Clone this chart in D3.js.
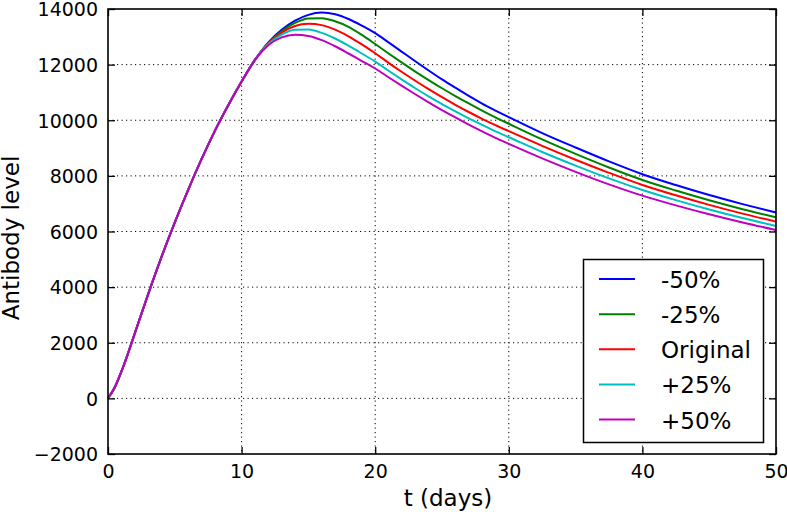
<!DOCTYPE html>
<html>
<head>
<meta charset="utf-8">
<script src="https://cdn.jsdelivr.net/npm/d3@7"></script>
<style>
  html, body { margin: 0; padding: 0; background: #fff; }
  svg { display: block; font-family: "DejaVu Sans", sans-serif; }
</style>
</head>
<body>
<svg id="chart" width="787" height="512"></svg>
<script>
// ---- data ----
const days = [0,0.5,1,1.5,2,3,4,5,6,7,8,9,10,11,
  12,13,14,15,16,17,18,19,20,21,22,23,24,25,26,27,28,29,30,32.5,35,37.5,40,42.5,45,47.5,50];
const rising = [0,390,960,1620,2330,3740,5080,6330,7500,8600,9620,10540,11390,12170];
const minus50 = rising.concat([12800,13250,13580,13790,13870,13810,13640,13400,13130,12800,12460,12120,11790,11470,11170,10880,10600,10350,10110,9540,9020,8520,8060,7670,7310,6985,6680]);
const minus25 = rising.concat([12780,13200,13500,13660,13670,13560,13360,13070,12740,12400,12070,11750,11445,11150,10870,10605,10350,10105,9875,9310,8790,8300,7853,7473,7123,6803,6512]);
const original = rising.concat([12760,13150,13390,13470,13420,13260,13020,12730,12410,12065,11735,11419,11117,10829,10556,10297,10052,9822,9606,9080,8580,8110,7673,7303,6958,6643,6354]);
const plus25 = rising.concat([12740,13080,13250,13260,13140,12940,12680,12400,12110,11780,11460,11150,10860,10580,10320,10070,9830,9600,9390,8860,8370,7910,7494,7129,6794,6484,6199]);
const plus50 = rising.concat([12700,12980,13075,13030,12880,12660,12400,12130,11860,11545,11235,10935,10645,10365,10100,9845,9600,9365,9150,8630,8145,7695,7289,6939,6619,6324,6055]);
const seriesNames = ["-50%","-25%","Original","+25%","+50%"];
const seriesValues = [minus50, minus25, original, plus25, plus50];
const seriesColors = ["#0000ff","#008000","#ff0000","#00bfbf","#bf00bf"];
const xTicks = [0,10,20,30,40,50];
const yTicks = [-2000,0,2000,4000,6000,8000,10000,12000,14000];
const xLabel = "t (days)";
const yLabel = "Antibody level";

// ---- layout ----
const L = 108, T = 9, W = 668, H = 445;
const svg = d3.select("#chart");
const x = d3.scaleLinear().domain([0,50]).range([L, L+W]);
const y = d3.scaleLinear().domain([-2000,14000]).range([T+H, T]);
const fmt = v => v < 0 ? "\u2212" + Math.abs(v) : String(v);

// grid
const grid = svg.append("g").attr("stroke","#000").attr("stroke-width",1)
  .attr("stroke-dasharray","1.2,3.3").attr("fill","none");
xTicks.slice(1,-1).forEach(t => grid.append("line")
  .attr("x1",x(t)).attr("x2",x(t)).attr("y1",T).attr("y2",T+H));
yTicks.slice(1,-1).forEach(v => grid.append("line")
  .attr("x1",L).attr("x2",L+W).attr("y1",y(v)).attr("y2",y(v)));

// lines
const line = d3.line().x((d,i) => x(days[i])).y(d => y(d)).curve(d3.curveMonotoneX);
seriesValues.forEach((vals,k) => {
  svg.append("path").datum(vals).attr("d", line)
    .attr("fill","none").attr("stroke", seriesColors[k]).attr("stroke-width",2)
    .attr("stroke-linejoin","round");
});

// axes (inward ticks, all sides)
const tk = 7;
const axB = svg.append("g").attr("transform",`translate(0,${T+H})`)
  .call(d3.axisBottom(x).tickValues(xTicks).tickSizeInner(-tk).tickSizeOuter(0).tickPadding(11).tickFormat(d=>d));
const axT = svg.append("g").attr("transform",`translate(0,${T})`)
  .call(d3.axisTop(x).tickValues(xTicks).tickSizeInner(-tk).tickSizeOuter(0).tickFormat(""));
const axLf = svg.append("g").attr("transform",`translate(${L},0)`)
  .call(d3.axisLeft(y).tickValues(yTicks).tickSizeInner(-tk).tickSizeOuter(0).tickPadding(10).tickFormat(fmt));
const axR = svg.append("g").attr("transform",`translate(${L+W},0)`)
  .call(d3.axisRight(y).tickValues(yTicks).tickSizeInner(-tk).tickSizeOuter(0).tickFormat(""));
[axB,axT,axLf,axR].forEach(a => {
  a.select(".domain").remove();
  a.selectAll(".tick line").attr("stroke","#000").attr("stroke-width",1.3);
  a.selectAll("text").attr("font-family","DejaVu Sans").attr("font-size",19).attr("fill","#000");
});
axB.selectAll("text").attr("dy","0.71em");
axLf.selectAll("text").attr("dy","0.36em");
// frame
svg.append("rect").attr("x",L).attr("y",T).attr("width",W).attr("height",H)
  .attr("fill","none").attr("stroke","#000").attr("stroke-width",1.6);

// axis titles
svg.append("text").attr("x", 448).attr("y", 506).attr("text-anchor","middle")
  .attr("font-size",23).text(xLabel);
svg.append("text").attr("transform",`translate(18.5,238) rotate(-90)`)
  .attr("text-anchor","middle").attr("font-size",23).text(yLabel);

// legend
const lg = svg.append("g");
lg.append("rect").attr("x",583.5).attr("y",259.5).attr("width",180).attr("height",183)
  .attr("fill","#fff").attr("stroke","#000").attr("stroke-width",1.5);
const rowY = d3.scaleLinear().domain([0,4]).range([279,419.5]);
seriesNames.forEach((n,k) => {
  lg.append("line").attr("x1",599).attr("x2",635).attr("y1",rowY(k)).attr("y2",rowY(k))
    .attr("stroke",seriesColors[k]).attr("stroke-width",2);
  lg.append("text").attr("x",661).attr("y",rowY(k)+9).attr("font-size",23).text(n);
});
</script>
</body>
</html>
